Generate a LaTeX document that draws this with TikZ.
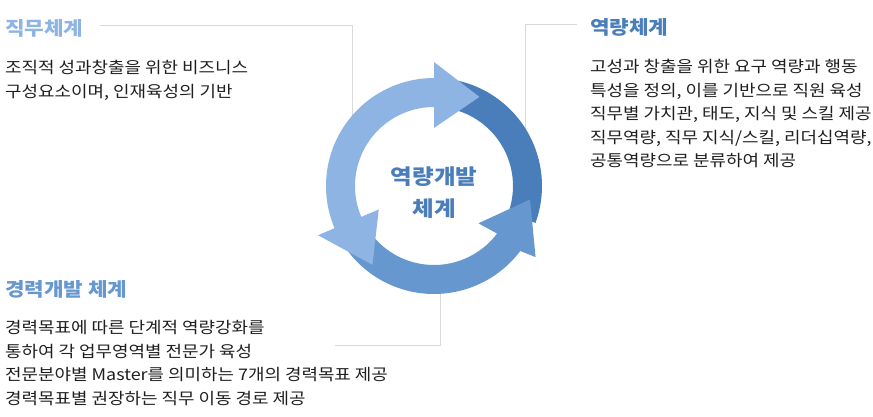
\documentclass[tikz,border=0pt]{standalone}
\usepackage{fontspec}
\setmainfont[FakeStretch=1.12]{Noto Sans CJK KR}
\definecolor{ringlight}{HTML}{8EB4E3}
\definecolor{ringmid}{HTML}{6797CF}
\definecolor{ringdark}{HTML}{4A7EBB}
\definecolor{leadgray}{HTML}{D9D9D9}
\begin{document}
\begin{tikzpicture}[x=1pt,y=-1pt,line join=round,
  every node/.style={inner sep=0pt,anchor=base west},
  title/.style={font=\fontsize{19}{22}\selectfont\bfseries},
  body/.style={font=\fontsize{16}{23.5}\selectfont,align=left,text=black!88},
  leader/.style={draw=leadgray,line width=0.8pt}]
  \useasboundingbox (0,0) rectangle (873,416);
  \def\Ri{79} \def\Ro{108}
  \coordinate (jm1) at (100,25); \coordinate (jm2) at (352,25); \coordinate (jm3) at (352,125);
  \coordinate (yr1) at (577,24); \coordinate (yr2) at (525,24); \coordinate (yr3) at (525,135);
  \coordinate (gr1) at (335,345); \coordinate (gr2) at (440,345); \coordinate (gr3) at (440,280);
  \draw[leader] (jm1) -- (jm2) -- (jm3);
  \draw[leader] (yr1) -- (yr2) -- (yr3);
  \draw[leader] (gr1) -- (gr2) -- (gr3);
  \begin{scope}[shift={(434,186)},yscale=-1]
    \fill[ringdark] (85:\Ro) arc[start angle=85,end angle=-20,radius=\Ro]
      -- (-20:\Ri) arc[start angle=-20,end angle=85,radius=\Ri] -- cycle;
    \fill[ringmid] (215:\Ro) arc[start angle=215,end angle=323,radius=\Ro]
      -- (325:124) -- (352:97) -- (320:58) -- (323:\Ri)
      arc[start angle=323,end angle=215,radius=\Ri] -- cycle;
    \fill[ringlight] (90:124) -- (63:100) -- (90:58) -- (90:\Ri)
      arc[start angle=90,end angle=203,radius=\Ri] -- (203:60) -- (232:100)
      -- (203:126) -- (203:\Ro) arc[start angle=203,end angle=90,radius=\Ro] -- cycle;
  \end{scope}
  \node[font=\fontsize{21}{32}\selectfont\bfseries,text=ringdark,align=center,anchor=center]
    (core) at (434,193) {역량개발\\체계};
  \node[title,text=ringlight] (jmtitle) at (5,35) {직무체계};
  \node[body] (jmtext) at (5,97) {조직적 성과창출을 위한 비즈니스\\구성요소이며, 인재육성의 기반};
  \node[title,text=ringdark] (yrtitle) at (590,34.5) {역량체계};
  \node[body] (yrtext) at (590,166.5) {고성과 창출을 위한 요구 역량과 행동\\특성을 정의, 이를 기반으로 직원 육성\\직무별 가치관, 태도, 지식 및 스킬 제공\\직무역량, 직무 지식/스킬, 리더십역량,\\공통역량으로 분류하여 제공};
  \node[title,text=ringmid] (grtitle) at (5,296.5) {경력개발 체계};
  \node[body] (grtext) at (5,404) {경력목표에 따른 단계적 역량강화를\\통하여 각 업무영역별 전문가 육성\\전문분야별 Master를 의미하는 7개의 경력목표 제공\\경력목표별 권장하는 직무 이동 경로 제공};
\end{tikzpicture}
\end{document}
